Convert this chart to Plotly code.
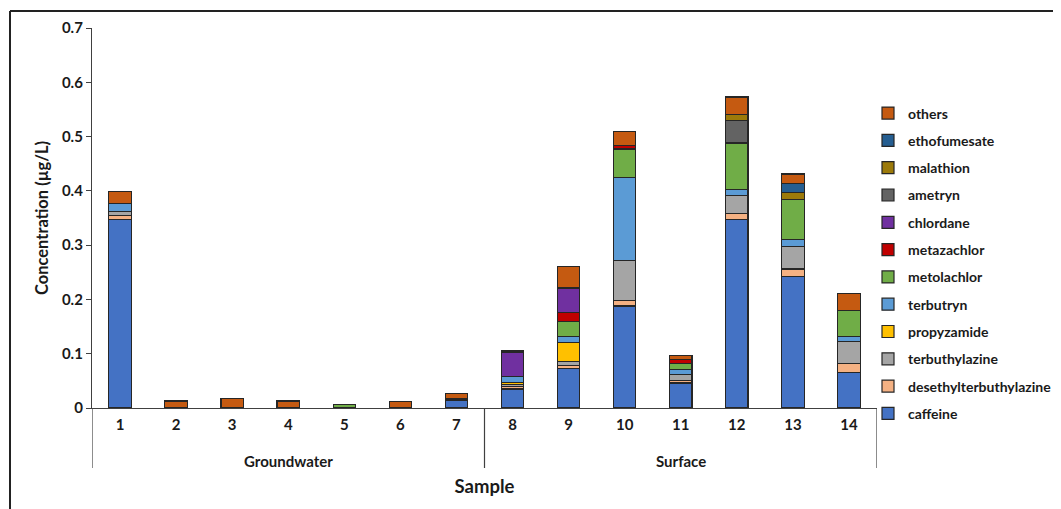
import plotly.graph_objects as go

samples = [str(i) for i in range(1, 15)]
group_names = ["Groundwater", "Surface"]
group_members = [samples[:7], samples[7:]]

compounds = ["caffeine", "desethylterbuthylazine", "terbuthylazine", "propyzamide",
             "terbutryn", "metolachlor", "metazachlor", "chlordane", "ametryn",
             "malathion", "ethofumesate", "others"]

colors = ["#4472C4", "#F4B183", "#A5A5A5", "#FFC000", "#5B9BD5", "#70AD47",
          "#C00000", "#7030A0", "#636363", "#9C7A0A", "#255E91", "#C55A11"]

# values per compound, samples 1..14 (µg/L)
caffeine =               [0.347, 0, 0, 0, 0, 0, 0.014, 0.035, 0.073, 0.188, 0.046, 0.347, 0.242, 0.065]
desethylterbuthylazine = [0.008, 0, 0, 0, 0, 0, 0.002, 0.004, 0.005, 0.010, 0.004, 0.012, 0.014, 0.017]
terbuthylazine =         [0.007, 0, 0, 0, 0, 0, 0.002, 0.004, 0.008, 0.073, 0.012, 0.033, 0.042, 0.040]
propyzamide =            [0, 0, 0, 0, 0, 0, 0, 0.004, 0.034, 0, 0, 0, 0, 0]
terbutryn =              [0.015, 0, 0, 0, 0, 0, 0, 0.011, 0.011, 0.154, 0.009, 0.010, 0.012, 0.010]
metolachlor =            [0, 0, 0, 0, 0.007, 0, 0, 0, 0.028, 0.052, 0.011, 0.086, 0.074, 0.047]
metazachlor =            [0, 0, 0, 0, 0, 0, 0, 0, 0.017, 0.007, 0.007, 0, 0, 0]
chlordane =              [0, 0, 0, 0, 0, 0, 0, 0.045, 0.045, 0, 0, 0, 0, 0]
ametryn =                [0, 0, 0, 0, 0, 0, 0, 0.003, 0, 0, 0, 0.042, 0, 0]
malathion =              [0, 0, 0, 0, 0, 0, 0, 0, 0, 0, 0, 0.010, 0.013, 0]
ethofumesate =           [0, 0, 0, 0, 0, 0, 0, 0, 0, 0, 0, 0, 0.017, 0]
others =                 [0.022, 0.013, 0.017, 0.013, 0, 0.012, 0.009, 0, 0.040, 0.026, 0.008, 0.033, 0.017, 0.032]

values = [caffeine, desethylterbuthylazine, terbuthylazine, propyzamide, terbutryn,
          metolachlor, metazachlor, chlordane, ametryn, malathion, ethofumesate, others]

y_ticks = [0, 0.1, 0.2, 0.3, 0.4, 0.5, 0.6, 0.7]
y_tick_text = ["0", "0.1", "0.2", "0.3", "0.4", "0.5", "0.6", "0.7"]

FONT = "Lato"
TXT = "#1a1a1a"
LINE = "#404040"

fig = go.Figure()
n = len(compounds)
for i, (name, col, vals) in enumerate(zip(compounds, colors, values)):
    fig.add_trace(go.Bar(
        x=samples, y=[v if v else None for v in vals],
        name=name, legendgroup=name, legendrank=n - i,
        marker=dict(color=col, line=dict(color="#262626", width=1.2)),
    ))

# page body has an 8px offset; screen coords -> figure coords
OFF = 8
W, H = 1061, 509
L, T = 92 - OFF, 28 - OFF
R = W - (877 - OFF)
B = H - (408 - OFF)
pw, ph = W - L - R, H - T - B

def px_x(xs):
    return (xs - OFF - L) / pw

def px_y(ys):
    return (H - B - (ys - OFF)) / ph

fig.update_layout(
    width=W, height=H,
    barmode="stack", bargap=0.6,
    plot_bgcolor="white", paper_bgcolor="white",
    margin=dict(l=L, r=R, t=T, b=B, autoexpand=False),
    font=dict(family=FONT, color=TXT, size=14),
    showlegend=True,
    legend=dict(
        traceorder="grouped", tracegroupgap=6.1,
        x=px_x(868), xanchor="left", y=px_y(97.5), yanchor="top",
        font=dict(family=FONT, size=14, color=TXT, weight="bold"),
        bgcolor="rgba(0,0,0,0)",
    ),
    xaxis=dict(
        type="category", range=[-0.5, len(samples) - 0.5],
        showline=True, linecolor=LINE, linewidth=1.2,
        ticks="", showgrid=False, ticklabelstandoff=3,
        tickfont=dict(family=FONT, size=15, color=TXT, weight="bold"),
        title=dict(text="Sample", font=dict(family=FONT, size=18.5, color=TXT, weight="bold"), standoff=47),
    ),
    yaxis=dict(
        range=[0, 0.7], tickvals=y_ticks, ticktext=y_tick_text,
        showline=True, linecolor=LINE, linewidth=1.2,
        ticks="outside", ticklen=5, tickcolor=LINE, showgrid=False, zeroline=False,
        tickfont=dict(family=FONT, size=15, color=TXT, weight="bold"),
        title=dict(text="Concentration (µg/L)", font=dict(family=FONT, size=16.5, color=TXT, weight="bold"), standoff=9),
    ),
)

# group dividers and group labels under the category axis
bounds = [-0.5]
for members in group_members:
    bounds.append(bounds[-1] + len(members))
for b in bounds:
    fig.add_shape(type="line", xref="x", yref="paper", x0=b, x1=b,
                  y0=0, y1=px_y(468), line=dict(color=LINE, width=1.2))
for gname, lo, hi in zip(group_names, bounds[:-1], bounds[1:]):
    fig.add_annotation(x=(lo + hi) / 2, xref="x", y=px_y(461), yref="paper",
                       text=gname, showarrow=False, yanchor="middle",
                       font=dict(family=FONT, size=15, color=TXT, weight="bold"))

# outer chart frame (top and left edges)
fig.add_shape(type="line", xref="paper", yref="paper",
              x0=px_x(10), x1=px_x(10), y0=px_y(530), y1=px_y(11),
              line=dict(color="#222222", width=2))
fig.add_shape(type="line", xref="paper", yref="paper",
              x0=px_x(10), x1=px_x(1080), y0=px_y(11), y1=px_y(11),
              line=dict(color="#222222", width=2))

fig.write_html("out.html")
